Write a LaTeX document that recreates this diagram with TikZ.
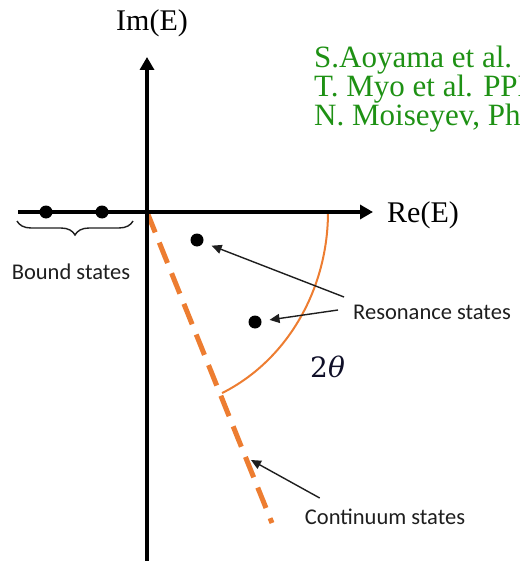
\documentclass[tikz,border=0pt]{standalone}
\usepackage{fontspec}
\setmainfont{Liberation Serif}
\newfontfamily\lblfont{Carlito}
\newfontfamily\thetafont{DejaVu Serif}
\usetikzlibrary{arrows.meta,decorations.pathreplacing,calc}
\definecolor{refgreen}{RGB}{30,145,20}
\definecolor{reforange}{RGB}{237,125,49}
\definecolor{refnavy}{RGB}{15,15,40}
\definecolor{reftext}{RGB}{30,30,30}
\tikzset{
  axisline/.style={line width=3.5pt,-{Triangle[length=13pt,width=14pt]}},
  statedot/.style={circle,fill=black,inner sep=0pt,minimum size=13pt},
  serifbig/.style={font=\fontsize{30}{36}\selectfont,inner sep=0pt,text=black},
  reflabel/.style={font=\fontsize{31}{37}\selectfont,inner sep=0pt,text=refgreen,anchor=base west},
  sanslabel/.style={font=\lblfont\fontsize{22.5}{27}\selectfont,inner sep=0pt,text=reftext},
  pointer/.style={line width=1.4pt,draw=reftext,-{Triangle[length=10pt,width=9pt]}},
}
\begin{document}
\begin{tikzpicture}[x=1pt,y=-1pt]
\useasboundingbox (0,0) rectangle (519,561);
\clip (0,0) rectangle (519,561);
% origin and axes
\coordinate (O) at (147,212);
\coordinate (xl) at (18,212);
\coordinate (xr) at (373,212);
\coordinate (yb) at (147,565);
\coordinate (yt) at (147,57);
% dashed rotated continuum line
\coordinate (cend) at (272,523);
\draw[draw=reforange,line width=5pt,dash pattern=on 22pt off 11pt] (O) -- (cend);
% arc 2theta
\draw[draw=reforange,line width=2pt] plot[domain=0:65.5,samples=50] ({147+181*cos(\x)},{212+199*sin(\x)});
\draw[axisline] (xl) -- (xr);
\draw[axisline] (yb) -- (yt);
% labels of axes
\node[serifbig,anchor=base] (im) at (152,31) {Im(E)};
\node[serifbig,anchor=base west] (re) at (387,222) {Re(E)};
% references
\node[reflabel] (r1) at (314,68) {S.Aoyama et al.};
\node[reflabel] (r2) at (314,97) {T. Myo et al. PPNP};
\node[reflabel] (r3) at (314,126) {N. Moiseyev, Phys. Rep.};
% bound states
\node[statedot] (b1) at (46,212) {};
\node[statedot] (b2) at (102,212) {};
\draw[draw=reftext,line width=1.4pt,decorate,decoration={brace,mirror,amplitude=14pt}] (17,221) -- (133,221);
\node[sanslabel] (bl) at (71,272) {Bound states};
% resonance states
\node[statedot] (d1) at (197,240) {};
\node[statedot] (d2) at (255,322) {};
\node[sanslabel] (rl) at (432,312) {Resonance states};
\draw[pointer,shorten >=9pt] ($(rl.west)+(-9,-15)$) -- (d1);
\draw[pointer,shorten >=8pt] ($(rl.west)+(-15,-2)$) -- (d2);
% 2 theta
\node[font=\thetafont\fontsize{28}{34}\selectfont,text=refnavy,inner sep=0pt,anchor=base west] (th) at (310,377) {2\textit{θ}};
% continuum states
\node[sanslabel] (cl) at (385,517) {Continuum states};
\coordinate (cpt) at (251,460);
\draw[pointer] ($(cl.west)+(15,-19)$) -- (cpt);
\end{tikzpicture}
\end{document}
